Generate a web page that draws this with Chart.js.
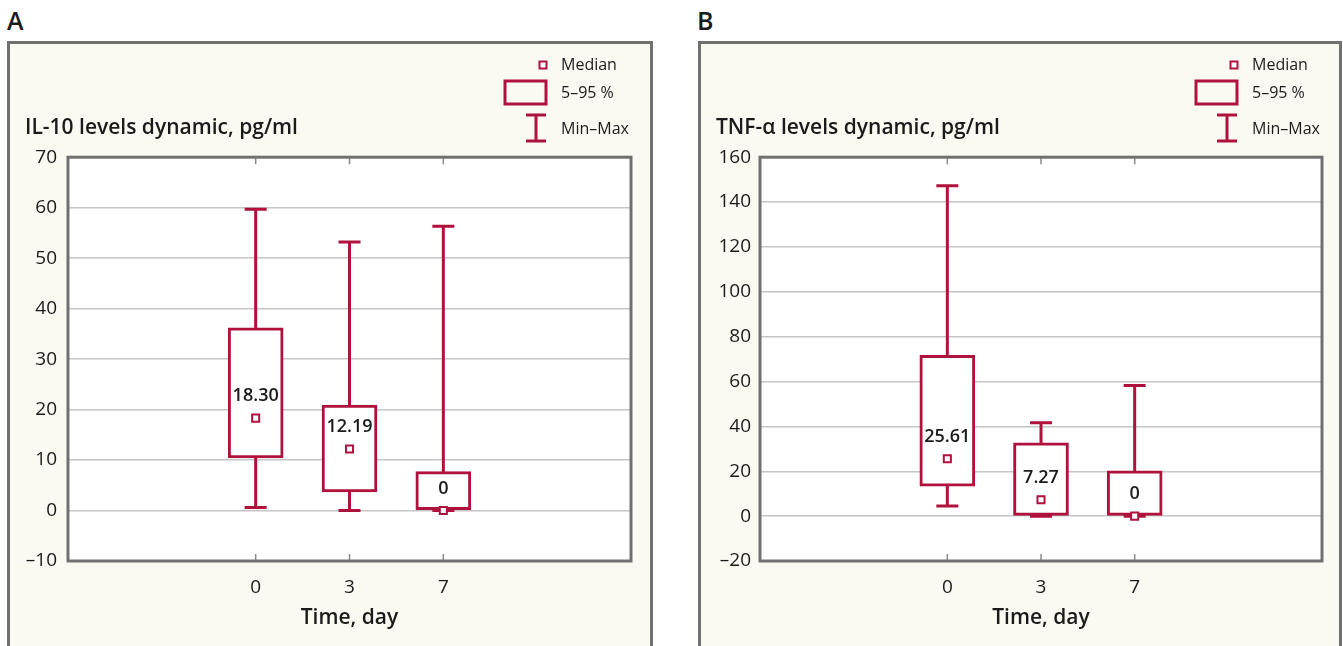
<!DOCTYPE html>
<html>
<head>
<meta charset="utf-8">
<script src="https://cdn.jsdelivr.net/npm/chart.js@4.4.0/dist/chart.umd.min.js"></script>
<style>
  html, body { margin: 0; padding: 0; background: #fff; width: 1343px; height: 646px; overflow: hidden; }
  .tag { position: absolute; top: 3px; font: 600 25px 'Open Sans', sans-serif; color: #1a1a1a; }
  .panel { position: absolute; top: 41px; height: 640px; background: #fbfaf2; border: 3px solid #707070; box-sizing: border-box; }
  .panel canvas { position: absolute; left: 0; top: 0; }
</style>
</head>
<body>
<div class="tag" style="left:7px">A</div>
<div class="panel" style="left:7px; width:646px"><canvas id="chartA" width="640" height="602"></canvas></div>
<div class="tag" style="left:697px">B</div>
<div class="panel" style="left:698px; width:644px"><canvas id="chartB" width="638" height="602"></canvas></div>
<script>
// --- Data ---
const days = ['0', '3', '7'];

// IL-10, pg/ml
const il10Min = [0.6, 0, 0];
const il10P5 = [10.4, 3.7, 0];
const il10Median = [18.30, 12.19, 0];
const il10P95 = [36.2, 20.9, 7.7];
const il10Max = [59.7, 53.2, 56.3];
const il10MedianText = ['18.30', '12.19', '0'];

// TNF-α, pg/ml
const tnfMin = [4.5, 0, 0];
const tnfP5 = [13.4, 0, 0];
const tnfMedian = [25.61, 7.27, 0];
const tnfP95 = [71.7, 32.7, 20.2];
const tnfMax = [147.3, 41.6, 58.2];
const tnfMedianText = ['25.61', '7.27', '0'];

const RED = '#b0123e';
const FONT = "'Open Sans', sans-serif";

// two empty slots each side so the days sit in the middle
const pad = arr => [null, null, ...arr, null, null];
const xLabels = ['', '', ...days, '', ''];

// --- Plugins ---
const plotFrame = {
    id: 'plotFrame',
    beforeDraw(chart) {
        const a = chart.chartArea, ctx = chart.ctx;
        ctx.save();
        ctx.fillStyle = '#fff';
        ctx.fillRect(a.left, a.top, a.right - a.left, a.bottom - a.top);
        ctx.restore();
    },
    afterDraw(chart) {
        const a = chart.chartArea, ctx = chart.ctx;
        const x = chart.scales.x;
        ctx.save();
        // little category ticks inside the frame, top and bottom
        ctx.strokeStyle = '#8a8a8a';
        ctx.lineWidth = 1.5;
        xLabels.forEach((l, i) => {
            if (!l) return;
            const px = x.getPixelForValue(i);
            ctx.beginPath();
            ctx.moveTo(px, a.top); ctx.lineTo(px, a.top + 7);
            ctx.moveTo(px, a.bottom); ctx.lineTo(px, a.bottom - 7);
            ctx.stroke();
        });
        ctx.strokeStyle = '#707070';
        ctx.lineWidth = 3;
        ctx.strokeRect(a.left, a.top, a.right - a.left, a.bottom - a.top);
        ctx.restore();
    }
};

const whiskers = {
    id: 'whiskers',
    beforeDatasetsDraw(chart, args, opts) {
        const ctx = chart.ctx, x = chart.scales.x, y = chart.scales.y;
        ctx.save();
        ctx.strokeStyle = RED;
        ctx.lineWidth = 3;
        opts.min.forEach((lo, i) => {
            const px = x.getPixelForValue(i + 2);
            const yLo = y.getPixelForValue(lo), yHi = y.getPixelForValue(opts.max[i]);
            ctx.beginPath();
            ctx.moveTo(px, yLo); ctx.lineTo(px, yHi);
            ctx.moveTo(px - 11, yHi); ctx.lineTo(px + 11, yHi);
            ctx.moveTo(px - 11, yLo); ctx.lineTo(px + 11, yLo);
            ctx.stroke();
        });
        ctx.restore();
    },
    afterDatasetsDraw(chart, args, opts) {
        // median values written above the marker
        const ctx = chart.ctx, x = chart.scales.x, y = chart.scales.y;
        ctx.save();
        ctx.fillStyle = '#1a1a1a';
        ctx.font = `600 18px ${FONT}`;
        ctx.textAlign = 'center';
        ctx.textBaseline = 'middle';
        opts.text.forEach((t, i) => {
            ctx.fillText(t, x.getPixelForValue(i + 2), y.getPixelForValue(opts.median[i]) - 22);
        });
        ctx.restore();
    }
};

const boxLegend = {
    id: 'boxLegend',
    afterDraw(chart) {
        const ctx = chart.ctx, r = chart.chartArea.right;
        ctx.save();
        ctx.strokeStyle = RED;
        // median marker
        ctx.lineWidth = 2;
        ctx.fillStyle = '#fff';
        ctx.fillRect(r - 91.5, 17.5, 7, 7);
        ctx.strokeRect(r - 91.5, 17.5, 7, 7);
        // 5-95 box
        ctx.lineWidth = 3;
        ctx.strokeRect(r - 126, 37, 41, 23);
        // min-max bar
        ctx.beginPath();
        ctx.moveTo(r - 95, 71); ctx.lineTo(r - 95, 97);
        ctx.moveTo(r - 105, 71); ctx.lineTo(r - 85, 71);
        ctx.moveTo(r - 105, 97); ctx.lineTo(r - 85, 97);
        ctx.stroke();
        ctx.fillStyle = '#1a1a1a';
        ctx.font = `16px ${FONT}`;
        ctx.textBaseline = 'middle';
        ctx.fillText('Median', r - 70, 21);
        ctx.fillText('5–95 %', r - 70, 49);
        ctx.fillText('Min–Max', r - 70, 85);
        ctx.restore();
    }
};

function makePanel(id, cfg) {
    return new Chart(document.getElementById(id), {
        type: 'bar',
        data: {
            labels: xLabels,
            datasets: [
                {
                    type: 'line',
                    data: pad(cfg.median),
                    showLine: false,
                    pointStyle: 'rect',
                    pointRadius: 5,
                    pointBorderWidth: 2,
                    pointBackgroundColor: '#fff',
                    pointBorderColor: RED,
                    order: 0
                },
                {
                    data: pad(cfg.p5.map((v, i) => [v, cfg.p95[i]])),
                    backgroundColor: '#fff',
                    borderColor: RED,
                    borderWidth: 3,
                    borderSkipped: false,
                    barThickness: 55,
                    order: 1
                }
            ]
        },
        options: {
            responsive: false,
            animation: false,
            layout: { padding: { left: 15, right: cfg.padRight, top: 0, bottom: 0 } },
            plugins: {
                legend: { display: false },
                tooltip: { enabled: false },
                title: {
                    display: true,
                    text: cfg.title,
                    align: 'start',
                    color: '#1a1a1a',
                    font: { family: FONT, size: 21, weight: '600' },
                    padding: { top: 71, bottom: 17 }
                },
                whiskers: { min: cfg.min, max: cfg.max, median: cfg.median, text: cfg.text }
            },
            scales: {
                x: {
                    offset: false,
                    grid: { display: false },
                    border: { display: false },
                    ticks: { color: '#1a1a1a', font: { family: FONT, size: 19 }, padding: 7, autoSkip: false, maxRotation: 0 },
                    title: { display: true, text: 'Time, day', color: '#1a1a1a', font: { family: FONT, size: 21, weight: '600' }, padding: { top: 0, bottom: 15 } },
                    afterFit: s => { s.height = 85; }
                },
                y: {
                    min: cfg.yMin,
                    max: cfg.yMax,
                    grid: { color: '#c6c6c6', lineWidth: 1.5, drawTicks: false },
                    border: { display: false },
                    ticks: {
                        stepSize: cfg.step,
                        color: '#1a1a1a',
                        font: { family: FONT, size: 19 },
                        padding: cfg.tickPad,
                        callback: v => v < 0 ? '–' + Math.abs(v) : v
                    },
                    afterFit: s => { s.width = cfg.axisWidth; }
                }
            }
        },
        plugins: [plotFrame, whiskers, boxLegend]
    });
}

makePanel('chartA', {
    title: 'IL-10 levels dynamic, pg/ml',
    min: il10Min, p5: il10P5, median: il10Median, p95: il10P95, max: il10Max, text: il10MedianText,
    yMin: -10, yMax: 70, step: 10, tickPad: 11, axisWidth: 43, padRight: 19
});

makePanel('chartB', {
    title: 'TNF-α levels dynamic, pg/ml',
    min: tnfMin, p5: tnfP5, median: tnfMedian, p95: tnfP95, max: tnfMax, text: tnfMedianText,
    yMin: -20, yMax: 160, step: 20, tickPad: 9, axisWidth: 44, padRight: 17
});
</script>
</body>
</html>
